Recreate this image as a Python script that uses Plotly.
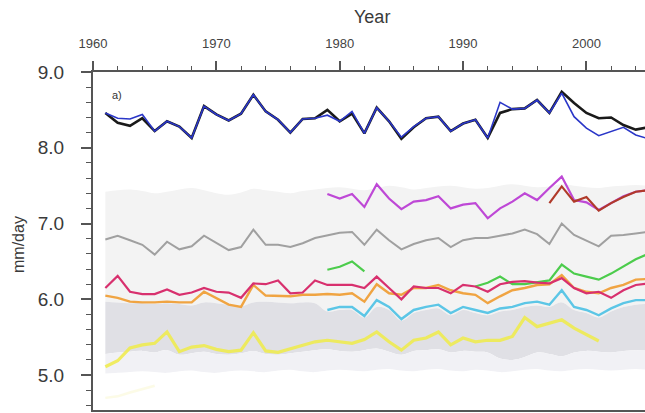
import plotly.graph_objects as go

# ---- data (mm/day), annual values ----
years = list(range(1961, 2006))
years_79 = list(range(1979, 2006))
years_97 = list(range(1997, 2006))
years_green_a = [1979, 1980, 1981, 1982]
years_green_b = list(range(1991, 2006))
years_yellow = list(range(1961, 2002))
years_faint = [1961, 1962, 1963, 1964, 1965]

black = [8.46, 8.33, 8.29, 8.39, 8.22, 8.35, 8.28, 8.13, 8.55, 8.44, 8.36, 8.45, 8.70, 8.48, 8.37,
         8.20, 8.38, 8.39, 8.50, 8.35, 8.45, 8.19, 8.53, 8.35, 8.12, 8.27, 8.39, 8.41, 8.22, 8.32,
         8.37, 8.13, 8.46, 8.51, 8.52, 8.63, 8.46, 8.74, 8.59, 8.46, 8.39, 8.40, 8.30, 8.24, 8.27]
blue = [8.46, 8.39, 8.38, 8.44, 8.22, 8.35, 8.28, 8.13, 8.55, 8.44, 8.36, 8.45, 8.70, 8.48, 8.37,
        8.20, 8.38, 8.39, 8.43, 8.35, 8.48, 8.19, 8.53, 8.35, 8.14, 8.28, 8.39, 8.41, 8.22, 8.32,
        8.37, 8.13, 8.60, 8.51, 8.52, 8.63, 8.46, 8.72, 8.41, 8.26, 8.16, 8.21, 8.27, 8.17, 8.12]
purple = [7.39, 7.33, 7.39, 7.22, 7.52, 7.33, 7.19, 7.29, 7.31, 7.36, 7.20, 7.25, 7.27, 7.07,
          7.20, 7.29, 7.40, 7.31, 7.47, 7.62, 7.31, 7.28, 7.18, 7.27, 7.36, 7.42, 7.44]
darkred = [7.27, 7.49, 7.29, 7.35, 7.17, 7.27, 7.35, 7.42, 7.44]
gray = [6.79, 6.84, 6.78, 6.72, 6.59, 6.76, 6.66, 6.70, 6.84, 6.74, 6.65, 6.69, 6.92, 6.72, 6.72,
        6.69, 6.74, 6.81, 6.85, 6.88, 6.89, 6.72, 6.92, 6.78, 6.66, 6.73, 6.78, 6.81, 6.69, 6.78,
        6.81, 6.81, 6.84, 6.87, 6.92, 6.86, 6.73, 7.00, 6.85, 6.78, 6.70, 6.84, 6.85, 6.87, 6.89]
green_a = [6.39, 6.43, 6.50, 6.37]
green_b = [6.17, 6.22, 6.30, 6.20, 6.20, 6.22, 6.25, 6.46, 6.34, 6.30, 6.26, 6.34, 6.43, 6.53, 6.60]
pink = [6.15, 6.31, 6.10, 6.07, 6.07, 6.13, 6.06, 6.09, 6.15, 6.10, 6.09, 6.02, 6.21, 6.20, 6.25,
        6.08, 6.09, 6.25, 6.19, 6.19, 6.19, 6.15, 6.30, 6.15, 6.00, 6.17, 6.15, 6.15, 6.08, 6.19,
        6.17, 6.10, 6.20, 6.23, 6.24, 6.22, 6.21, 6.28, 6.15, 6.08, 6.10, 6.02, 6.12, 6.19, 6.21]
orange = [6.05, 6.02, 5.97, 5.96, 5.96, 5.97, 5.96, 5.96, 6.10, 6.02, 5.93, 5.90, 6.19, 6.05, 6.04,
          6.04, 6.06, 6.06, 6.07, 6.06, 6.08, 5.97, 6.20, 6.08, 6.06, 6.15, 6.15, 6.19, 6.12, 6.08,
          6.06, 5.95, 6.04, 6.12, 6.15, 6.19, 6.20, 6.32, 6.15, 6.10, 6.08, 6.15, 6.19, 6.26, 6.27]
cyan = [5.86, 5.90, 5.90, 5.78, 5.99, 5.90, 5.74, 5.86, 5.90, 5.93, 5.82, 5.90, 5.86, 5.82,
        5.88, 5.90, 5.95, 5.97, 5.93, 6.12, 5.90, 5.86, 5.79, 5.88, 5.95, 5.99, 5.99]
yellow = [5.11, 5.19, 5.36, 5.40, 5.42, 5.57, 5.31, 5.37, 5.39, 5.34, 5.31, 5.33, 5.56, 5.32, 5.30,
          5.35, 5.40, 5.44, 5.46, 5.44, 5.42, 5.47, 5.57, 5.44, 5.33, 5.46, 5.49, 5.57, 5.40, 5.49,
          5.44, 5.46, 5.46, 5.51, 5.76, 5.64, 5.68, 5.73, 5.62, 5.54, 5.45]
faint_yellow = [4.70, 4.72, 4.77, 4.82, 4.86]

# spread envelopes
band_top = [7.42, 7.44, 7.45, 7.43, 7.40, 7.42, 7.45, 7.47, 7.44, 7.40, 7.38, 7.41, 7.46, 7.44, 7.42,
            7.40, 7.43, 7.45, 7.47, 7.48, 7.46, 7.44, 7.47, 7.50, 7.48, 7.45, 7.47, 7.49, 7.50, 7.48,
            7.46, 7.47, 7.50, 7.52, 7.50, 7.48, 7.49, 7.52, 7.50, 7.48, 7.47, 7.49, 7.50, 7.51, 7.50]
core_top = [5.97, 5.96, 5.95, 5.95, 5.94, 5.95, 5.94, 5.92, 5.96, 5.95, 5.93, 5.91, 5.96, 5.97, 5.96,
            5.95, 5.96, 5.95, 5.84, 5.86, 5.86, 5.76, 5.90, 5.86, 5.72, 5.82, 5.86, 5.88, 5.79, 5.86,
            5.82, 5.79, 5.84, 5.86, 5.90, 5.92, 5.90, 5.96, 5.86, 5.82, 5.76, 5.84, 5.90, 5.93, 5.94]
core_bottom = [5.28, 5.30, 5.31, 5.32, 5.30, 5.33, 5.27, 5.29, 5.31, 5.28, 5.27, 5.29, 5.32, 5.28, 5.27,
               5.29, 5.31, 5.33, 5.34, 5.32, 5.31, 5.33, 5.35, 5.31, 5.27, 5.32, 5.33, 5.34, 5.30, 5.32,
               5.31, 5.30, 5.22, 5.20, 5.24, 5.30, 5.28, 5.25, 5.30, 5.32, 5.31, 5.30, 5.32, 5.33, 5.32]
band_bottom = [5.02, 5.03, 5.04, 5.05, 5.04, 5.03, 5.05, 5.06, 5.04, 5.03, 5.05, 5.06, 5.05, 5.04, 5.06,
               5.07, 5.05, 5.04, 5.06, 5.07, 5.06, 5.05, 5.07, 5.08, 5.06, 5.05, 5.07, 5.08, 5.06, 5.05,
               5.07, 5.06, 5.04, 5.05, 5.07, 5.08, 5.06, 5.05, 5.07, 5.08, 5.07, 5.06, 5.07, 5.08, 5.07]

fig = go.Figure()


def band(lo, hi, color):
    fig.add_trace(go.Scatter(x=years, y=lo, mode="lines", line=dict(width=0, shape="spline"),
                             hoverinfo="skip", showlegend=False))
    fig.add_trace(go.Scatter(x=years, y=hi, mode="lines", line=dict(width=0, shape="spline"),
                             fill="tonexty", fillcolor=color, hoverinfo="skip", showlegend=False))


band(core_top, band_top, "#f3f3f3")
band(core_bottom, core_top, "#e0e0e5")
band(band_bottom, core_bottom, "#f1f1f5")


def line(x, y, color, width, opacity=1.0):
    fig.add_trace(go.Scatter(x=x, y=y, mode="lines", line=dict(color=color, width=width),
                             opacity=opacity, showlegend=False))


line(years_faint, faint_yellow, "#f4f0a0", 2.5, 0.25)
line(years_yellow, yellow, "#f0ec48", 3.2, 0.85)
line(years_79, cyan, "#5cc6e6", 2.4)
line(years, orange, "#f0a442", 2.4)
line(years_green_a, green_a, "#4ccc4c", 2.2)
line(years_green_b, green_b, "#4ccc4c", 2.2)
line(years, pink, "#d8306e", 2.2)
line(years, gray, "#a0a0a0", 2.0)
line(years_79, purple, "#be48d6", 2.2)
line(years_97, darkred, "#b03a2a", 2.2)
line(years, black, "#1a1a1a", 2.6)
line(years, blue, "#2a36c8", 1.6)

axis_col = "#555555"
fig.update_layout(
    width=645, height=413,
    margin=dict(l=93, r=0, t=72, b=3),
    paper_bgcolor="white", plot_bgcolor="white",
    font=dict(family="Liberation Sans, Arial, sans-serif", color="#333333"),
    xaxis=dict(
        range=[1960, 2004.75], side="top", showgrid=False, zeroline=False,
        tickmode="array", tickvals=[1960, 1970, 1980, 1990, 2000],
        ticktext=["1960", "1970", "1980", "1990", "2000"],
        ticks="outside", ticklen=9, tickwidth=1.5, tickcolor=axis_col,
        tickfont=dict(size=13, color="#444444"), ticklabelstandoff=8,
        showline=True, linecolor=axis_col, linewidth=2, mirror=True,
        minor=dict(dtick=2, tick0=1960, ticks="outside", ticklen=4, tickcolor=axis_col, tickwidth=1),
    ),
    yaxis=dict(
        range=[4.54, 9.0], showgrid=False, zeroline=False,
        tickmode="array", tickvals=[5.0, 6.0, 7.0, 8.0, 9.0],
        ticktext=["5.0", "6.0", "7.0", "8.0", "9.0"],
        ticks="outside", ticklen=10, tickwidth=1.5, tickcolor=axis_col,
        tickfont=dict(size=19, color="#3a3a3a"), ticklabelstandoff=13,
        showline=True, linecolor=axis_col, linewidth=2, mirror=False,
        minor=dict(dtick=0.2, tick0=5.0, ticks="outside", ticklen=5, tickcolor=axis_col, tickwidth=1),
    ),
    annotations=[
        dict(text="Year", x=372, y=17, xref="paper", yref="paper", showarrow=False,
             font=dict(size=18, color="#3a3a3a")),
        dict(text="mm/day", x=19, y=245, xref="paper", yref="paper", showarrow=False,
             textangle=-90, font=dict(size=16, color="#3a3a3a")),
        dict(text="a)", x=117, y=95, xref="paper", yref="paper", showarrow=False,
             font=dict(size=11, color="#333333")),
    ],
)

# annotation positions given in pixels; convert to paper fractions
pw, ph = 645 - 93 - 0, 413 - 72 - 3
for a in fig.layout.annotations:
    a.x = (a.x - 93) / pw
    a.y = 1 - (a.y - 72) / ph
    a.yanchor = "middle"
    a.xanchor = "center"

fig.write_html("out.html")
